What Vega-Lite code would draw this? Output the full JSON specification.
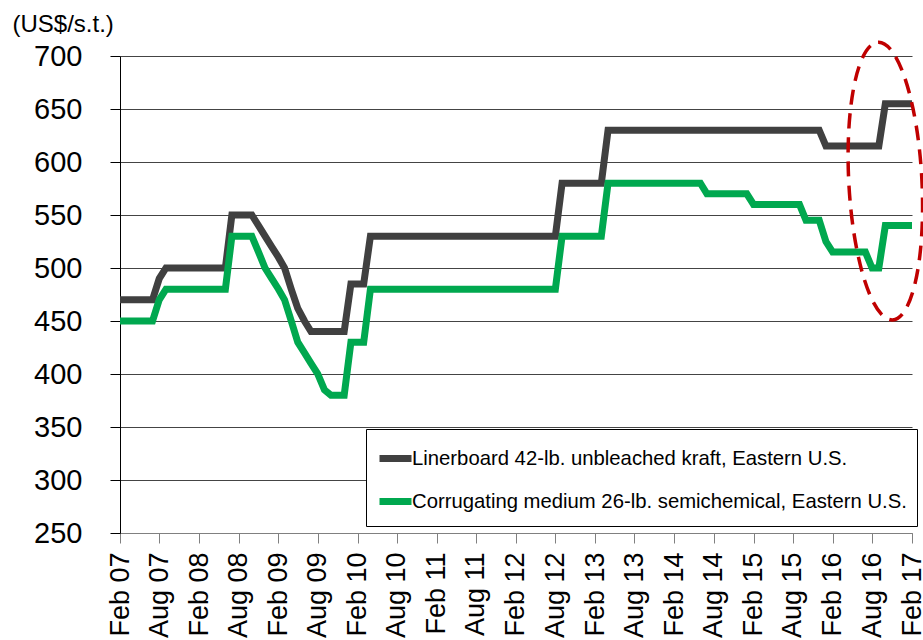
{
  "$schema": "https://vega.github.io/schema/vega-lite/v6.json",
  "autosize": {"type": "none"},
  "padding": {"left": 120, "top": 56, "right": 11, "bottom": 108},
  "width": 792,
  "height": 477,
  "background": "white",
  "config": {
    "view": {"stroke": null},
    "font": "Liberation Sans",
    "axis": {"labelFont": "Liberation Sans", "titleFont": "Liberation Sans", "labelColor": "black", "titleColor": "black"},
    "legend": {
      "orient": "none", "legendX": 246, "legendY": 373,
      "strokeColor": "black", "fillColor": "white", "padding": 10,
      "rowPadding": 9, "labelFontSize": 20.3, "labelFont": "Liberation Sans", "labelColor": "black",
      "symbolType": "stroke", "symbolStrokeWidth": 7, "symbolSize": 1024, "labelOffset": -3, "labelLimit": 0
    }
  },
  "layer": [
    {
      "data": {"values": [
        {"d":"2007-02-01","L":470,"C":450},{"d":"2007-03-01","L":470,"C":450},{"d":"2007-04-01","L":470,"C":450},
        {"d":"2007-05-01","L":470,"C":450},{"d":"2007-06-01","L":470,"C":450},{"d":"2007-07-01","L":470,"C":450},
        {"d":"2007-08-01","L":490,"C":470},{"d":"2007-09-01","L":500,"C":480},{"d":"2007-10-01","L":500,"C":480},
        {"d":"2007-11-01","L":500,"C":480},{"d":"2007-12-01","L":500,"C":480},{"d":"2008-01-01","L":500,"C":480},
        {"d":"2008-02-01","L":500,"C":480},{"d":"2008-03-01","L":500,"C":480},{"d":"2008-04-01","L":500,"C":480},
        {"d":"2008-05-01","L":500,"C":480},{"d":"2008-06-01","L":500,"C":480},{"d":"2008-07-01","L":550,"C":530},
        {"d":"2008-08-01","L":550,"C":530},{"d":"2008-09-01","L":550,"C":530},{"d":"2008-10-01","L":550,"C":530},
        {"d":"2008-11-01","L":540,"C":515},{"d":"2008-12-01","L":530,"C":500},{"d":"2009-01-01","L":520,"C":490},
        {"d":"2009-02-01","L":510,"C":480},{"d":"2009-03-01","L":500,"C":470},{"d":"2009-04-01","L":480,"C":450},
        {"d":"2009-05-01","L":462,"C":430},{"d":"2009-06-01","L":450,"C":420},{"d":"2009-07-01","L":440,"C":410},
        {"d":"2009-08-01","L":440,"C":400},{"d":"2009-09-01","L":440,"C":385},{"d":"2009-10-01","L":440,"C":380},
        {"d":"2009-11-01","L":440,"C":380},{"d":"2009-12-01","L":440,"C":380},{"d":"2010-01-01","L":485,"C":430},
        {"d":"2010-02-01","L":485,"C":430},{"d":"2010-03-01","L":485,"C":430},{"d":"2010-04-01","L":530,"C":480},
        {"d":"2010-05-01","L":530,"C":480},{"d":"2010-06-01","L":530,"C":480},{"d":"2010-07-01","L":530,"C":480},
        {"d":"2010-08-01","L":530,"C":480},{"d":"2010-09-01","L":530,"C":480},{"d":"2010-10-01","L":530,"C":480},
        {"d":"2010-11-01","L":530,"C":480},{"d":"2010-12-01","L":530,"C":480},{"d":"2011-01-01","L":530,"C":480},
        {"d":"2011-02-01","L":530,"C":480},{"d":"2011-03-01","L":530,"C":480},{"d":"2011-04-01","L":530,"C":480},
        {"d":"2011-05-01","L":530,"C":480},{"d":"2011-06-01","L":530,"C":480},{"d":"2011-07-01","L":530,"C":480},
        {"d":"2011-08-01","L":530,"C":480},{"d":"2011-09-01","L":530,"C":480},{"d":"2011-10-01","L":530,"C":480},
        {"d":"2011-11-01","L":530,"C":480},{"d":"2011-12-01","L":530,"C":480},{"d":"2012-01-01","L":530,"C":480},
        {"d":"2012-02-01","L":530,"C":480},{"d":"2012-03-01","L":530,"C":480},{"d":"2012-04-01","L":530,"C":480},
        {"d":"2012-05-01","L":530,"C":480},{"d":"2012-06-01","L":530,"C":480},{"d":"2012-07-01","L":530,"C":480},
        {"d":"2012-08-01","L":530,"C":480},{"d":"2012-09-01","L":580,"C":530},{"d":"2012-10-01","L":580,"C":530},
        {"d":"2012-11-01","L":580,"C":530},{"d":"2012-12-01","L":580,"C":530},{"d":"2013-01-01","L":580,"C":530},
        {"d":"2013-02-01","L":580,"C":530},{"d":"2013-03-01","L":580,"C":530},{"d":"2013-04-01","L":630,"C":580},
        {"d":"2013-05-01","L":630,"C":580},{"d":"2013-06-01","L":630,"C":580},{"d":"2013-07-01","L":630,"C":580},
        {"d":"2013-08-01","L":630,"C":580},{"d":"2013-09-01","L":630,"C":580},{"d":"2013-10-01","L":630,"C":580},
        {"d":"2013-11-01","L":630,"C":580},{"d":"2013-12-01","L":630,"C":580},{"d":"2014-01-01","L":630,"C":580},
        {"d":"2014-02-01","L":630,"C":580},{"d":"2014-03-01","L":630,"C":580},{"d":"2014-04-01","L":630,"C":580},
        {"d":"2014-05-01","L":630,"C":580},{"d":"2014-06-01","L":630,"C":580},{"d":"2014-07-01","L":630,"C":570},
        {"d":"2014-08-01","L":630,"C":570},{"d":"2014-09-01","L":630,"C":570},{"d":"2014-10-01","L":630,"C":570},
        {"d":"2014-11-01","L":630,"C":570},{"d":"2014-12-01","L":630,"C":570},{"d":"2015-01-01","L":630,"C":570},
        {"d":"2015-02-01","L":630,"C":560},{"d":"2015-03-01","L":630,"C":560},{"d":"2015-04-01","L":630,"C":560},
        {"d":"2015-05-01","L":630,"C":560},{"d":"2015-06-01","L":630,"C":560},{"d":"2015-07-01","L":630,"C":560},
        {"d":"2015-08-01","L":630,"C":560},{"d":"2015-09-01","L":630,"C":560},{"d":"2015-10-01","L":630,"C":545},
        {"d":"2015-11-01","L":630,"C":545},{"d":"2015-12-01","L":630,"C":545},{"d":"2016-01-01","L":615,"C":525},
        {"d":"2016-02-01","L":615,"C":515},{"d":"2016-03-01","L":615,"C":515},{"d":"2016-04-01","L":615,"C":515},
        {"d":"2016-05-01","L":615,"C":515},{"d":"2016-06-01","L":615,"C":515},{"d":"2016-07-01","L":615,"C":515},
        {"d":"2016-08-01","L":615,"C":500},{"d":"2016-09-01","L":615,"C":500},{"d":"2016-10-01","L":655,"C":540},
        {"d":"2016-11-01","L":655,"C":540},{"d":"2016-12-01","L":655,"C":540},{"d":"2017-01-01","L":655,"C":540},
        {"d":"2017-02-01","L":655,"C":540}
      ]},
      "transform": [{"fold": ["L", "C"], "as": ["s", "v"]}],
      "mark": {"type": "line", "strokeWidth": 7, "strokeJoin": "miter", "strokeCap": "butt"},
      "encoding": {
        "x": {
          "field": "d", "type": "temporal",
          "scale": {"type": "utc", "domain": [{"year": 2007, "month": "feb", "date": 1, "utc": true}, {"year": 2017, "month": "feb", "date": 1, "utc": true}]},
          "axis": {
            "title": null, "format": "%b %y", "labelAngle": -90, "labelAlign": "right", "labelBaseline": "middle",
            "labelFontSize": 27, "labelPadding": 9, "tickSize": 10, "tickColor": "#808080", "domainColor": "#808080",
            "grid": false, "labelOverlap": false, "labelFlush": false, "tickCount": 40,
            "values": [
              {"year": 2007, "month": "feb", "date": 1, "utc": true}, {"year": 2007, "month": "aug", "date": 1, "utc": true},
              {"year": 2008, "month": "feb", "date": 1, "utc": true}, {"year": 2008, "month": "aug", "date": 1, "utc": true},
              {"year": 2009, "month": "feb", "date": 1, "utc": true}, {"year": 2009, "month": "aug", "date": 1, "utc": true},
              {"year": 2010, "month": "feb", "date": 1, "utc": true}, {"year": 2010, "month": "aug", "date": 1, "utc": true},
              {"year": 2011, "month": "feb", "date": 1, "utc": true}, {"year": 2011, "month": "aug", "date": 1, "utc": true},
              {"year": 2012, "month": "feb", "date": 1, "utc": true}, {"year": 2012, "month": "aug", "date": 1, "utc": true},
              {"year": 2013, "month": "feb", "date": 1, "utc": true}, {"year": 2013, "month": "aug", "date": 1, "utc": true},
              {"year": 2014, "month": "feb", "date": 1, "utc": true}, {"year": 2014, "month": "aug", "date": 1, "utc": true},
              {"year": 2015, "month": "feb", "date": 1, "utc": true}, {"year": 2015, "month": "aug", "date": 1, "utc": true},
              {"year": 2016, "month": "feb", "date": 1, "utc": true}, {"year": 2016, "month": "aug", "date": 1, "utc": true},
              {"year": 2017, "month": "feb", "date": 1, "utc": true}
            ]
          }
        },
        "y": {
          "field": "v", "type": "quantitative",
          "scale": {"domain": [250, 700], "nice": false, "zero": false},
          "axis": {
            "values": [250, 300, 350, 400, 450, 500, 550, 600, 650, 700], "tickCount": 20,
            "labelFontSize": 29, "labelPadding": 28, "tickSize": 10, "tickColor": "black", "domainColor": "black",
            "grid": true, "gridColor": "#444444", "gridWidth": 1,
            "title": "(US$/s.t.)", "titleAngle": 0, "titleAlign": "left", "titleBaseline": "middle",
            "titleX": -108, "titleY": -32, "titleFontSize": 24, "titleFontWeight": "normal"
          }
        },
        "color": {
          "field": "s", "type": "nominal",
          "scale": {"domain": ["L", "C"], "range": ["#404040", "#00A84F"]},
          "legend": {
            "title": null,
            "labelExpr": "datum.label == 'L' ? 'Linerboard 42-lb. unbleached kraft, Eastern U.S.' : 'Corrugating medium 26-lb. semichemical, Eastern U.S.'"
          }
        }
      }
    },
    {
      "data": {"values": [{"d": "2016-10-01", "v": 582}]},
      "mark": {
        "type": "point",
        "shape": "M0,-1C0.1452,-1,0.263,-0.5523,0.263,0C0.263,0.5523,0.1452,1,0,1C-0.1452,1,-0.263,0.5523,-0.263,0C-0.263,-0.5523,-0.1452,-1,0,-1Z",
        "size": 77284, "filled": false, "stroke": "#C00000", "strokeWidth": 3.5, "strokeDash": [15, 9], "angle": -3, "opacity": 1
      },
      "encoding": {
        "x": {"field": "d", "type": "temporal"},
        "y": {"field": "v", "type": "quantitative"}
      }
    }
  ]
}
